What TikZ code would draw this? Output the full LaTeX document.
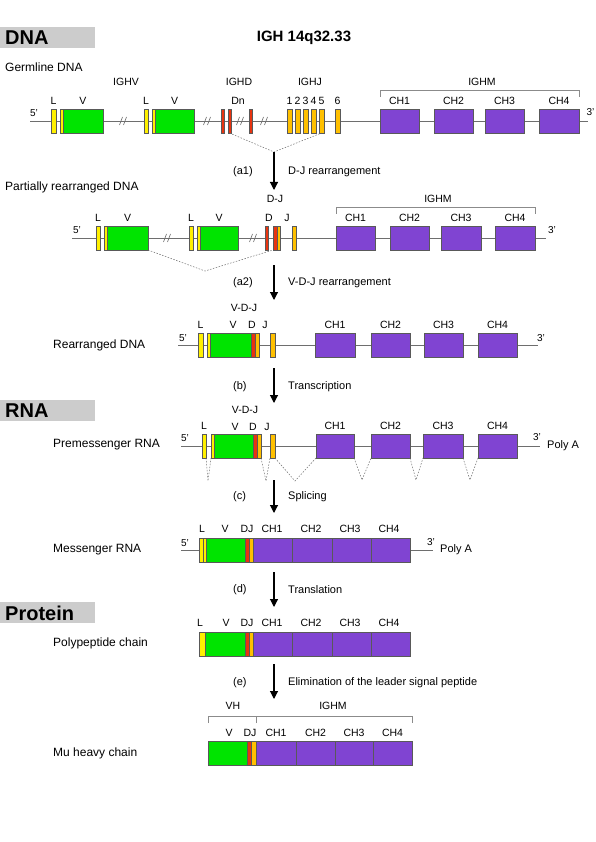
\documentclass[tikz,border=0pt]{standalone}
\usepackage{fontspec}
\setmainfont{Liberation Sans}
\usetikzlibrary{arrows.meta, calc, positioning}
\definecolor{segyellow}{RGB}{255,240,0}
\definecolor{seggreen}{RGB}{0,228,0}
\definecolor{segred}{RGB}{232,52,16}
\definecolor{segorange}{RGB}{255,192,0}
\definecolor{segpurple}{RGB}{128,68,210}
\definecolor{headgray}{RGB}{204,204,204}
\definecolor{linegray}{RGB}{110,110,110}
% one gene segment: [label]{name}{left}{right}{row y}{colour}
\newcommand{\seg}[6][]{%
  \node[segbox, fill=#6, minimum width={#4pt-#3pt}] (#2) at ({(#3+#4)/2},#5) {};
  \if\relax\detokenize{#1}\relax\else
    \node[labeltexts] (#2-lbl) at ({(#3+#4)/2},{#5-20}) {#1};
  \fi}

\begin{document}
\begin{tikzpicture}[
	x=1pt, y=-1pt,
	texts/.style = {text=black, inner sep=0pt},
	rowtexts/.style = {texts, anchor=west, font=\fontsize{12}{14}\selectfont},
	steptexts/.style = {texts, anchor=west, font=\fontsize{11}{13}\selectfont},
	labeltexts/.style = {texts, font=\fontsize{10.5}{12}\selectfont},
	primetexts/.style = {texts, font=\fontsize{10}{12}\selectfont},
	headbox/.style = {fill=headgray, minimum width=95pt, minimum height=21pt, anchor=north west, inner sep=0pt, outer sep=0pt},
	headtexts/.style = {texts, anchor=west, font=\fontsize{20}{24}\selectfont\bfseries},
	segbox/.style = {rectangle, draw=black!65, line width=0.5pt, minimum height=24pt, inner sep=0pt, outer sep=0pt},
	backbone/.style = {draw=linegray, line width=0.7pt},
	splice/.style = {draw=linegray, dash pattern=on 1.5pt off 1.5pt, line width=0.5pt},
	bracket/.style = {draw=linegray!80, line width=0.8pt},
	flowarrow/.style = {draw=black, line width=1.1pt, -{Triangle[length=8pt, width=8pt]}},
	brk/.pic = {\draw[linegray, line width=0.6pt] (-3.5,4) -- (-0.5,-4) (0.5,4) -- (3.5,-4);}
]
	\useasboundingbox[fill=white] (0,0) rectangle (595,842);

	% DNA
	\node[headbox] (dnabox) at (0,27) {};
	\node[headtexts] (dnahead) at (5,38) {DNA};
	\node[texts, font=\fontsize{15}{18}\selectfont\bfseries] (title) at (304,38) {IGH 14q32.33};

	% germline DNA
	\node[rowtexts] (germline) at (5,67) {Germline DNA};
	\coordinate (g5) at (30,121);
	\coordinate (g3) at (588,121);
	\draw[backbone] (g5) -- (g3);
	\node[primetexts] (g5lbl) at (34,113) {5'};
	\node[primetexts, anchor=east] (g3lbl) at (594.5,112) {3'};
	\node[labeltexts] (ighv) at (126,82) {IGHV};
	\node[labeltexts] (ighd) at (239,82) {IGHD};
	\node[labeltexts] (ighj) at (310,82) {IGHJ};
	\node[labeltexts] (gighm) at (482,82) {IGHM};
	\seg[L]{gl1}{51}{56}{121}{segyellow}
	\seg[V]{gv1}{63}{103}{121}{seggreen}
	\seg{gv1s}{60}{63}{121}{segyellow}
	\pic at (123,121) {brk};
	\seg[L]{gl2}{144}{148}{121}{segyellow}
	\seg[V]{gv2}{155}{194}{121}{seggreen}
	\seg{gv2s}{152}{155}{121}{segyellow}
	\pic at (207,121) {brk};
	\seg{gd1}{221}{224}{121}{segred}
	\seg{gd2}{228}{231}{121}{segred}
	\pic at (240,121) {brk};
	\seg{gd3}{249}{252}{121}{segred}
	\pic at (264,121) {brk};
	\node[labeltexts] (dn) at (238,101) {Dn};
	\foreach \i/\a/\b in {1/287/292, 2/295/300, 3/303/308, 4/311/316, 5/319/324, 6/335/340}
		\seg[\i]{gj\i}{\a}{\b}{121}{segorange};
	\foreach \i/\a/\b in {1/380/419, 2/434/473, 3/485/524, 4/539/579}
		\seg[CH\i]{gch\i}{\a}{\b}{121}{segpurple};
	\draw[bracket] ([yshift=12pt]gch1.north west) -- ([yshift=19pt]gch1.north west)
		-- ([yshift=19pt]gch4.north east) -- ([yshift=12pt]gch4.north east);
	\coordinate (djjoin) at (274,152);
	\draw[splice] (gd2.south) -- (djjoin) -- (gj5.south);

	\coordinate (a1end) at (274,190);
	\draw[flowarrow] (djjoin) -- (a1end);
	\node[steptexts] (a1) at (233,172) {(a1)};
	\node[steptexts] (a1txt) at (288,172) {D-J rearrangement};

	% partially rearranged DNA
	\node[rowtexts] (partial) at (5,187) {Partially rearranged DNA};
	\coordinate (p5) at (72,238);
	\coordinate (p3) at (546,238);
	\draw[backbone] (p5) -- (p3);
	\node[primetexts] (p5lbl) at (77,230) {5'};
	\node[primetexts] (p3lbl) at (552,230) {3'};
	\node[labeltexts] (djlbl) at (275,199) {D-J};
	\seg[L]{pl1}{96}{100}{238}{segyellow}
	\seg[V]{pv1}{107}{148}{238}{seggreen}
	\seg{pv1s}{104}{107}{238}{segyellow}
	\pic at (167,238) {brk};
	\seg[L]{pl2}{189}{193}{238}{segyellow}
	\seg[V]{pv2}{200}{238}{238}{seggreen}
	\seg{pv2s}{197}{200}{238}{segyellow}
	\pic at (253,238) {brk};
	\seg{pd}{265}{268}{238}{segred}
	\seg{pdj1}{273}{277}{238}{segred}
	\seg{pdj2}{277}{280}{238}{segorange}
	\seg{pj}{292}{296}{238}{segorange}
	\node[labeltexts] (pdlbl) at (269,218) {D};
	\node[labeltexts] (pjlbl) at (287,218) {J};
	\foreach \i/\a/\b in {1/336/375, 2/390/429, 3/441/481, 4/495/535}
		\seg[CH\i]{pch\i}{\a}{\b}{238}{segpurple};
	\draw[bracket] ([yshift=12pt]pch1.north west) -- ([yshift=19pt]pch1.north west)
		-- ([yshift=19pt]pch4.north east) -- ([yshift=12pt]pch4.north east);
	\node[labeltexts] (pighm) at (438,199) {IGHM};
	\coordinate (vjjoin) at (205,271);
	\draw[splice] (pv1.south east) -- (vjjoin) -- (pdj1.south west);

	\coordinate (a2start) at (274,265);
	\coordinate (a2end) at (274,300);
	\draw[flowarrow] (a2start) -- (a2end);
	\node[steptexts] (a2) at (233,283) {(a2)};
	\node[steptexts] (a2txt) at (288,283) {V-D-J rearrangement};

	% rearranged DNA
	\node[rowtexts] (rearr) at (53,345) {Rearranged DNA};
	\coordinate (r5) at (178,345);
	\coordinate (r3) at (538,345);
	\draw[backbone] (r5) -- (r3);
	\node[primetexts] (r5lbl) at (183,338) {5'};
	\node[primetexts] (r3lbl) at (541,338) {3'};
	\node[labeltexts] (rvdj) at (244,308) {V-D-J};
	\seg[L]{rl}{198}{203}{345}{segyellow}
	\seg{rv}{210}{251}{345}{seggreen}
	\seg{rvs}{207}{210}{345}{segyellow}
	\seg{rd}{251}{255}{345}{segred}
	\seg{rdj}{255}{259}{345}{segorange}
	\seg{rj}{270}{275}{345}{segorange}
	\node[labeltexts] (rvlbl) at (233,325) {V};
	\node[labeltexts] (rdlbl) at (252,325) {D};
	\node[labeltexts] (rjlbl) at (265,325) {J};
	\foreach \i/\a/\b in {1/315/355, 2/371/410, 3/424/463, 4/478/517}
		\seg[CH\i]{rch\i}{\a}{\b}{345}{segpurple};

	\coordinate (bstart) at (274,368);
	\coordinate (bend) at (274,403);
	\draw[flowarrow] (bstart) -- (bend);
	\node[steptexts] (b) at (233,387) {(b)};
	\node[steptexts] (btxt) at (288,387) {Transcription};

	% RNA
	\node[headbox] (rnabox) at (0,400) {};
	\node[headtexts] (rnahead) at (5,411) {RNA};

	% premessenger RNA
	\node[rowtexts] (premrna) at (53,445) {Premessenger RNA};
	\coordinate (m5) at (181,446);
	\coordinate (m3) at (540,446);
	\draw[backbone] (m5) -- (m3);
	\node[primetexts] (m5lbl) at (185,438) {5'};
	\node[primetexts] (m3lbl) at (537,437) {3'};
	\node[steptexts] (mpoly) at (547,446) {Poly A};
	\node[labeltexts] (mvdj) at (245,410) {V-D-J};
	\seg[L]{ml}{202}{206}{446}{segyellow}
	\seg{mv}{214}{253}{446}{seggreen}
	\seg{mvs}{211}{214}{446}{segyellow}
	\seg{md}{253}{257}{446}{segred}
	\seg{mdj}{257}{261}{446}{segorange}
	\seg{mj}{270}{275}{446}{segorange}
	\node[labeltexts] (mvlbl) at (235,427) {V};
	\node[labeltexts] (mdlbl) at (253,427) {D};
	\node[labeltexts] (mjlbl) at (267,427) {J};
	\foreach \i/\a/\b in {1/316/354, 2/371/410, 3/423/463, 4/478/517}
		\seg[CH\i]{mch\i}{\a}{\b}{446}{segpurple};
	\coordinate (sp1) at (208,481);
	\coordinate (sp2) at (266,481);
	\coordinate (sp3) at (295,481);
	\coordinate (sp4) at (362,480);
	\coordinate (sp5) at (416,480);
	\coordinate (sp6) at (470,480);
	\draw[splice] (ml.south east) -- (sp1) -- (mvs.south west);
	\draw[splice] (mdj.south east) -- (sp2) -- (mj.south west);
	\draw[splice] (mj.south east) -- (sp3) -- (mch1.south west);
	\draw[splice] (mch1.south east) -- (sp4) -- (mch2.south west);
	\draw[splice] (mch2.south east) -- (sp5) -- (mch3.south west);
	\draw[splice] (mch3.south east) -- (sp6) -- (mch4.south west);

	\coordinate (cstart) at (274,480);
	\coordinate (cend) at (274,513);
	\draw[flowarrow] (cstart) -- (cend);
	\node[steptexts] (c) at (233,497) {(c)};
	\node[steptexts] (ctxt) at (288,497) {Splicing};

	% messenger RNA
	\node[rowtexts] (mrna) at (53,550) {Messenger RNA};
	\coordinate (n5) at (181,550);
	\coordinate (n3) at (433,550);
	\draw[backbone] (n5) -- (n3);
	\node[primetexts] (n5lbl) at (185,543) {5'};
	\node[primetexts] (n3lbl) at (431,542) {3'};
	\node[steptexts] (npoly) at (440,550) {Poly A};
	\seg{nl}{199}{203}{550}{segyellow}
	\seg{nvs}{203}{206}{550}{segyellow}
	\seg{nv}{206}{245}{550}{seggreen}
	\seg{nd}{245}{249}{550}{segred}
	\seg{ndj}{249}{253}{550}{segorange}
	\node[labeltexts] (nllbl) at (202,529) {L};
	\node[labeltexts] (nvlbl) at (225,529) {V};
	\node[labeltexts] (ndjlbl) at (247,529) {DJ};
	\foreach \i/\a/\b in {1/253/292, 2/292/332, 3/332/371, 4/371/410}
		\seg{nch\i}{\a}{\b}{550}{segpurple};
	\foreach \i/\x in {1/272, 2/311, 3/350, 4/389}
		\node[labeltexts] (nch\i-lbl) at (\x,529) {CH\i};

	\coordinate (dstart) at (274,572);
	\coordinate (dend) at (274,607);
	\draw[flowarrow] (dstart) -- (dend);
	\node[steptexts] (d) at (233,590) {(d)};
	\node[steptexts] (dtxt) at (288,590) {Translation};

	% Protein
	\node[headbox] (protbox) at (0,602) {};
	\node[headtexts] (prothead) at (5,613) {Protein};

	% polypeptide chain
	\node[rowtexts] (poly) at (53,643) {Polypeptide chain};
	\seg{ql}{199}{205}{644}{segyellow}
	\seg{qv}{205}{245}{644}{seggreen}
	\seg{qd}{245}{249}{644}{segred}
	\seg{qdj}{249}{253}{644}{segorange}
	\node[labeltexts] (qllbl) at (200,623) {L};
	\node[labeltexts] (qvlbl) at (226,623) {V};
	\node[labeltexts] (qdjlbl) at (247,623) {DJ};
	\foreach \i/\a/\b in {1/253/292, 2/292/332, 3/332/371, 4/371/410}
		\seg{qch\i}{\a}{\b}{644}{segpurple};
	\foreach \i/\x in {1/272, 2/311, 3/350, 4/389}
		\node[labeltexts] (qch\i-lbl) at (\x,623) {CH\i};

	\coordinate (estart) at (274,664);
	\coordinate (eend) at (274,699);
	\draw[flowarrow] (estart) -- (eend);
	\node[steptexts] (e) at (233,683) {(e)};
	\node[steptexts] (etxt) at (288,683) {Elimination of the leader signal peptide};

	% mu heavy chain
	\node[rowtexts] (mu) at (53,753) {Mu heavy chain};
	\seg{hv}{208}{247}{753}{seggreen}
	\seg{hd}{247}{251}{753}{segred}
	\seg{hdj}{251}{256}{753}{segorange}
	\node[labeltexts] (hvlbl) at (229,733) {V};
	\node[labeltexts] (hdjlbl) at (250,733) {DJ};
	\foreach \i/\a/\b in {1/256/296, 2/296/335, 3/335/373, 4/373/412}
		\seg[CH\i]{hch\i}{\a}{\b}{753}{segpurple};
	\draw[bracket] ([yshift=18pt]hv.north west) -- ([yshift=25pt]hv.north west)
		-- ([yshift=25pt]hch4.north east) -- ([yshift=18pt]hch4.north east);
	\draw[bracket] ([yshift=18pt]hch1.north west) -- ([yshift=25pt]hch1.north west);
	\node[labeltexts] (vh) at (233,706) {VH};
	\node[labeltexts] (highm) at (333,706) {IGHM};
\end{tikzpicture}
\end{document}
